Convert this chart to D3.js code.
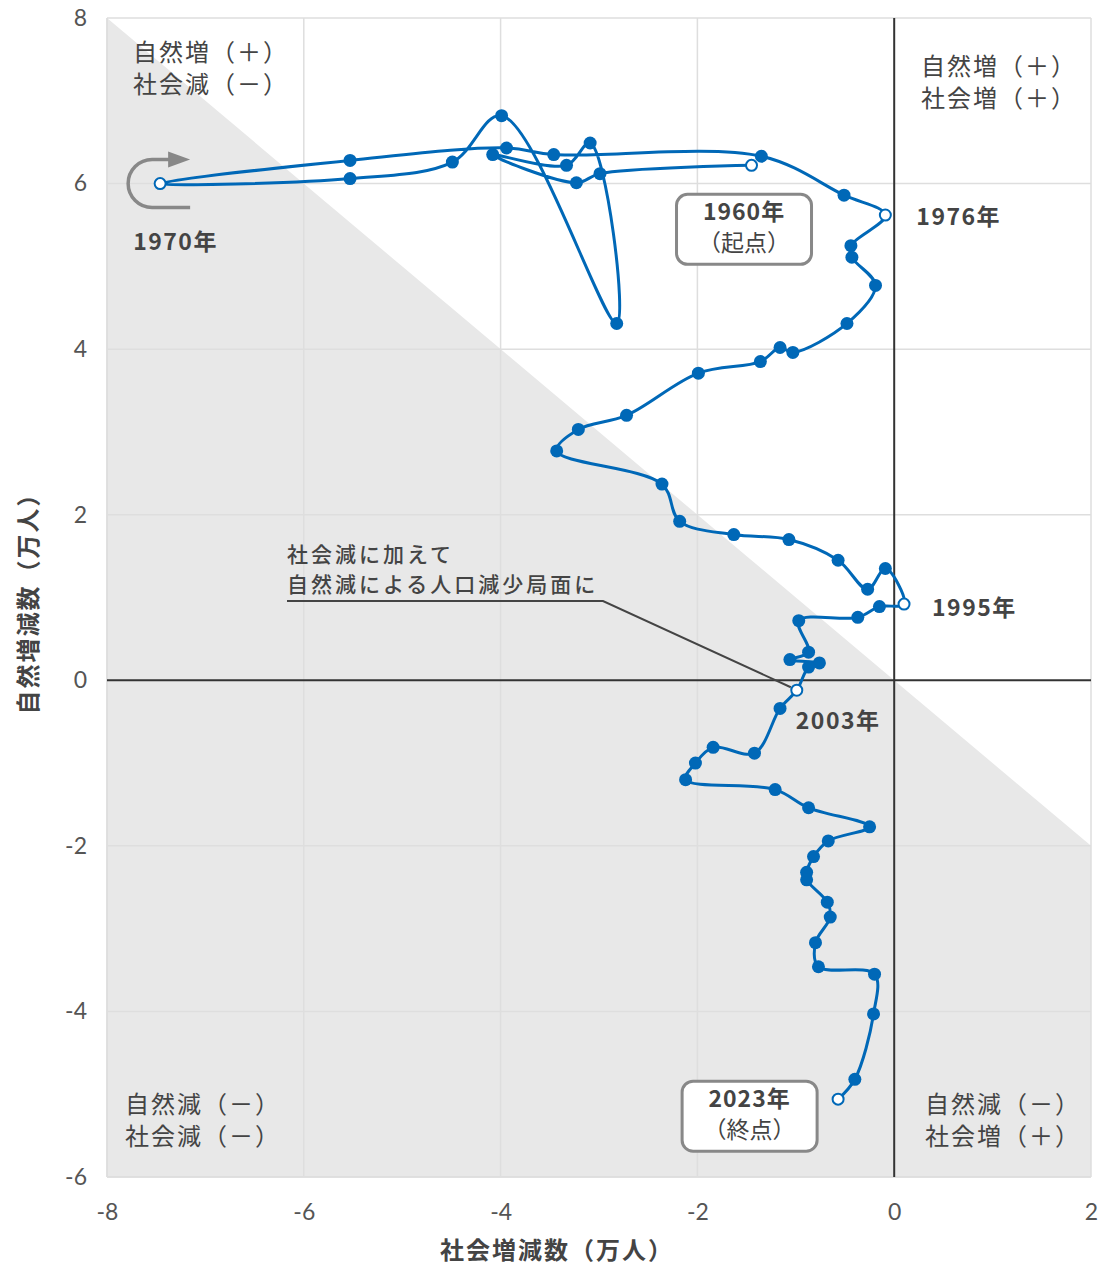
<!DOCTYPE html>
<html lang="ja">
<head>
<meta charset="utf-8">
<script src="https://cdn.jsdelivr.net/npm/d3@7"></script>
<style>
  html, body { margin: 0; padding: 0; background: #fff; }
  #chart { width: 1104px; height: 1266px; }
  text { font-family: "Noto Sans CJK JP", "Noto Sans", sans-serif; fill: #444; }
  .tick text { font-family: Lato, "Noto Sans", sans-serif; fill: #555; }
</style>
</head>
<body>
<div id="chart"></div>
<script>
// 年ごとの社会増減・自然増減（万人）
const years = d3.range(1960, 2024);
const socialChange = [
  -1.45, -2.99, -3.23, -4.08, -3.33, -3.09, -2.82, -3.99, -4.49, -5.53,
  -7.46, -5.53, -3.94, -3.46, -1.35, -0.51, -0.09, -0.44, -0.43, -0.19,
  -0.48, -1.03, -1.16, -1.36, -1.99, -2.72, -3.21, -3.43, -2.36, -2.18,
  -1.63, -1.07, -0.57, -0.27, -0.09, 0.10, -0.15, -0.37, -0.97, -0.87,
  -1.06, -0.76, -0.87, -0.99, -1.16, -1.42, -1.84, -2.02, -2.12, -1.21,
  -0.87, -0.25, -0.67, -0.82, -0.89, -0.89, -0.68, -0.65, -0.80, -0.77,
  -0.20, -0.21, -0.40, -0.57
];
const naturalChange = [
  6.22, 6.12, 6.01, 6.35, 6.22, 6.49, 4.31, 6.82, 6.26, 6.06,
  6.00, 6.28, 6.43, 6.35, 6.33, 5.86, 5.62, 5.25, 5.11, 4.77,
  4.31, 3.96, 4.02, 3.85, 3.71, 3.20, 3.03, 2.77, 2.37, 1.92,
  1.76, 1.70, 1.45, 1.10, 1.35, 0.92, 0.89, 0.76, 0.72, 0.34,
  0.25, 0.21, 0.16, -0.12, -0.34, -0.88, -0.81, -1.00, -1.20, -1.32,
  -1.54, -1.77, -1.94, -2.13, -2.32, -2.41, -2.68, -2.86, -3.17, -3.46,
  -3.55, -4.03, -4.82, -5.06
];
const openYears = [1960, 1970, 1976, 1995, 2003, 2023];
const xTicks = [-8, -6, -4, -2, 0, 2];
const yTicks = [-6, -4, -2, 0, 2, 4, 6, 8];
const quadrantLabels = [
  ["自然増（＋）", "社会減（－）"],
  ["自然増（＋）", "社会増（＋）"],
  ["自然減（－）", "社会減（－）"],
  ["自然減（－）", "社会増（＋）"]
];
const yearLabels = ["1970年", "1976年", "1995年", "2003年"];
const boxLabels = [["1960年", "（起点）"], ["2023年", "（終点）"]];
const noteLines = ["社会減に加えて", "自然減による人口減少局面に"];
const xTitle = "社会増減数（万人）";
const yTitle = "自然増減数（万人）";

class PopChart {
  constructor(container) {
    this.w = 1104;
    this.h = 1266;
    this.padding = { t: 18, b: 89, s: 107, e: 13 };
    this.blue = "#0068b7";
    this.svg = d3.select(container).append("svg").attr("width", this.w).attr("height", this.h);
    this.data = years.map((y, i) => ({ year: y, x: socialChange[i], y: naturalChange[i] }));
    this.xScale = d3.scaleLinear().domain([-8, 2]).range([this.padding.s, this.w - this.padding.e]);
    this.yScale = d3.scaleLinear().domain([-6, 8]).range([this.h - this.padding.b, this.padding.t]);
  }
  pt = (year) => {
    const d = this.data.find((d) => d.year === year);
    return [this.xScale(d.x), this.yScale(d.y)];
  };
  draw = () => {
    const x = this.xScale, y = this.yScale;
    const [x0, x1] = x.range(), [y1, y0] = y.range();

    // 人口減少（自然+社会<0）の領域
    const shade = [[-8, 8], [2, -2], [2, -6], [-8, -6]];
    this.svg.append("path")
      .attr("d", d3.line().x((d) => x(d[0])).y((d) => y(d[1]))(shade) + "Z")
      .attr("fill", "#e8e8e8");

    // grid
    const grid = this.svg.append("g").attr("stroke", "#dedede").attr("stroke-width", 1.5);
    grid.selectAll("v").data(xTicks.filter((d) => d !== 0)).enter().append("line")
      .attr("x1", (d) => x(d)).attr("x2", (d) => x(d)).attr("y1", y0).attr("y2", y1);
    grid.selectAll("h").data(yTicks.filter((d) => d !== 0)).enter().append("line")
      .attr("y1", (d) => y(d)).attr("y2", (d) => y(d)).attr("x1", x0).attr("x2", x1);
    grid.append("line").attr("x1", x0).attr("x2", x0).attr("y1", y0).attr("y2", y1);
    grid.append("line").attr("x1", x0).attr("x2", x1).attr("y1", y1).attr("y2", y1);

    // zero lines
    const zero = this.svg.append("g").attr("stroke", "#333").attr("stroke-width", 2);
    zero.append("line").attr("x1", x(0)).attr("x2", x(0)).attr("y1", y0).attr("y2", y1);
    zero.append("line").attr("x1", x0).attr("x2", x1).attr("y1", y(0)).attr("y2", y(0));

    // axes (labels only)
    const xAxis = this.svg.append("g").attr("transform", `translate(0, ${y1 + 35})`)
      .call(d3.axisBottom(x).tickValues(xTicks).tickSize(0).tickPadding(0).tickFormat((d) => String(d)));
    const yAxis = this.svg.append("g").attr("transform", `translate(${x0 - 20}, 0)`)
      .call(d3.axisLeft(y).tickValues(yTicks).tickSize(0).tickPadding(0).tickFormat((d) => String(d)));
    [xAxis, yAxis].forEach((a) => {
      a.select(".domain").remove();
      a.selectAll("text").attr("font-size", 23).attr("fill", "#555");
    });
    xAxis.selectAll("text").attr("dy", "0.35em");

    this.svg.append("text").text(xTitle)
      .attr("x", 557).attr("y", 1259).attr("text-anchor", "middle").attr("letter-spacing", 2)
      .attr("font-size", 24).attr("font-weight", "bold").attr("fill", "#444");
    this.svg.append("text").text(yTitle)
      .attr("transform", `translate(37, ${(y0 + y1) / 2}) rotate(-90)`).attr("text-anchor", "middle")
      .attr("letter-spacing", 2).attr("font-size", 24).attr("font-weight", "bold").attr("fill", "#444");

    // quadrant labels
    const qPos = [[133, 61], [921, 75], [125, 1113], [925, 1113]];
    quadrantLabels.forEach((lines, i) => {
      const t = this.svg.append("text").attr("font-size", 24).attr("letter-spacing", 2).attr("fill", "#444");
      lines.forEach((s, j) => t.append("tspan").text(s).attr("x", qPos[i][0]).attr("y", qPos[i][1] + j * 32));
    });

    // note with leader line
    noteLines.forEach((s, j) => {
      this.svg.append("text").text(s).attr("x", 287).attr("y", 562 + j * 30)
        .attr("font-size", 21).attr("letter-spacing", 3).attr("font-weight", 500).attr("fill", "#444");
    });
    const p2003 = this.pt(2003);
    this.svg.append("path")
      .attr("d", `M287,601 L603,601 L${p2003[0] - 6},${p2003[1] - 3}`)
      .attr("fill", "none").attr("stroke", "#444").attr("stroke-width", 2);

    // trajectory
    const line = d3.line().x((d) => x(d.x)).y((d) => y(d.y)).curve(d3.curveCatmullRom.alpha(0.5));
    this.svg.append("path").datum(this.data).attr("d", line)
      .attr("fill", "none").attr("stroke", this.blue).attr("stroke-width", 3).attr("stroke-linejoin", "round");
    this.svg.append("g").selectAll("circle").data(this.data).enter().append("circle")
      .attr("cx", (d) => x(d.x)).attr("cy", (d) => y(d.y))
      .attr("r", (d) => (openYears.includes(d.year) ? 5.5 : 6.5))
      .attr("fill", (d) => (openYears.includes(d.year) ? "#fff" : this.blue))
      .attr("stroke", this.blue)
      .attr("stroke-width", (d) => (openYears.includes(d.year) ? 2 : 0));

    // 1970 turning arrow
    const [ax, ay] = this.pt(1970);
    this.svg.append("path")
      .attr("d", `M${ax + 30},${ay + 24} L${ax - 8},${ay + 24} A24,24 0 0 1 ${ax - 8},${ay - 24} L${ax + 10},${ay - 24}`)
      .attr("fill", "none").attr("stroke", "#888").attr("stroke-width", 3.5);
    this.svg.append("path")
      .attr("d", `M${ax + 8},${ay - 32} L${ax + 30},${ay - 24} L${ax + 8},${ay - 16}Z`)
      .attr("fill", "#888");

    // year labels
    const yl = [[1970, -27, 66], [1976, 31, 10], [1995, 28, 12], [2003, -1, 39]];
    yl.forEach(([yr, dx, dy], i) => {
      const [px, py] = this.pt(yr);
      this.svg.append("text").text(yearLabels[i]).attr("x", px + dx).attr("y", py + dy)
        .attr("font-size", 23).attr("letter-spacing", 1.5).attr("font-weight", "bold").attr("fill", "#444");
    });

    // start / end boxes
    const boxes = [[1960, -75, 29], [2023, -156, -18]];
    boxes.forEach(([yr, dx, dy], i) => {
      const [px, py] = this.pt(yr);
      const g = this.svg.append("g").attr("transform", `translate(${px + dx}, ${py + dy})`);
      g.append("rect").attr("width", 135).attr("height", 70).attr("rx", 11)
        .attr("fill", "#fff").attr("stroke", "#888").attr("stroke-width", 3);
      g.append("text").text(boxLabels[i][0]).attr("x", 67.5).attr("y", 26).attr("text-anchor", "middle")
        .attr("font-size", 23).attr("letter-spacing", 1).attr("font-weight", "bold").attr("fill", "#444");
      g.append("text").text(boxLabels[i][1]).attr("x", 67.5).attr("y", 57).attr("text-anchor", "middle")
        .attr("font-size", 23).attr("fill", "#444");
    });
  };
}

const chart = new PopChart("#chart");
chart.draw();
</script>
</body>
</html>
